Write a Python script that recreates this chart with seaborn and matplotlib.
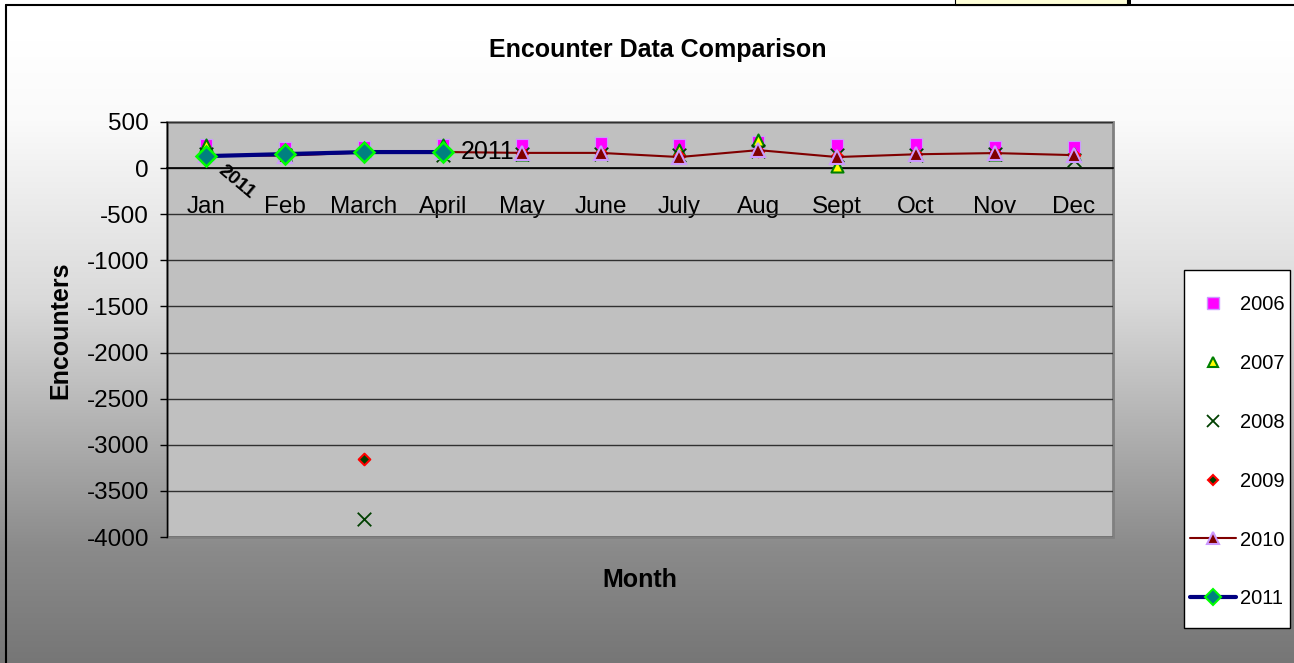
import numpy as np
import pandas as pd
import matplotlib
matplotlib.use("Agg")
import matplotlib.pyplot as plt
import seaborn as sns
from matplotlib.lines import Line2D
from matplotlib.patches import Rectangle

months = ["Jan", "Feb", "March", "April", "May", "June",
          "July", "Aug", "Sept", "Oct", "Nov", "Dec"]

enc_2006 = [250, 220, 230, 250, 250, 270, 250, 280, 250, 260, 230, 230]
enc_2007 = [250, 150, 180, 250, 150, 160, 200, 300, 20, 150, 150, 150]
enc_2008 = [150, 140, -3800, 140, 150, 150, 140, 190, 140, 140, 150, 90]
enc_2009 = [140, 140, -3150, 170, 160, 160, 130, 190, 130, 150, 160, 140]
enc_2010 = [140, 135, 170, 175, 165, 165, 120, 195, 120, 150, 163, 141]
enc_2011 = [130, 152, 174, 174]

sns.set_style("white")
plt.rcParams["font.family"] = ["Liberation Sans", "DejaVu Sans"]
plt.rcParams["text.color"] = "black"
plt.rcParams["xtick.color"] = "black"
plt.rcParams["ytick.color"] = "black"
plt.rcParams["axes.unicode_minus"] = False

W, H = 1294, 663
fig = plt.figure(figsize=(W / 100, H / 100), dpi=100)

# gradient background of the chart area
bg = fig.add_axes([0, 0, 1, 1], zorder=-10)
rows = np.arange(H)
grey = np.interp(rows, [0, 40, 120, 300, 450, 550, 663],
                 [255, 255, 250, 218, 170, 138, 118]) / 255.0
img = np.dstack([np.tile(grey[:, None], (1, 16))] * 3)
bg.imshow(img, aspect="auto", extent=[0, W, H, 0], interpolation="nearest")
bg.set_xlim(0, W)
bg.set_ylim(H, 0)
bg.axis("off")
# chart frame (top and left visible)
bg.plot([6, 6], [H, 5], color="black", lw=1.5)
bg.plot([6, W], [5, 5], color="black", lw=1.5)
# clipped cell fragment at the top
bg.add_patch(Rectangle((955, -2), 172, 7, facecolor="#FFFFD8", edgecolor="black", lw=0.8))
bg.add_patch(Rectangle((1127, 0), 4, 6, facecolor="black", edgecolor="none"))
# legend box
bg.add_patch(Rectangle((1184, 270), 106, 358, facecolor="white", edgecolor="black", lw=1))

# plot area
x0, y0, x1, y1 = 167, 122, 1113, 537
ax = fig.add_axes([x0 / W, 1 - y1 / H, (x1 - x0) / W, (y1 - y0) / H])
ax.set_facecolor("#C0C0C0")
ax.patch.set_edgecolor("#808080")
ax.patch.set_linewidth(2)

xs = np.arange(len(months))
df = pd.DataFrame({"x": xs, "2006": enc_2006, "2007": enc_2007,
                   "2008": enc_2008, "2009": enc_2009, "2010": enc_2010})
df11 = pd.DataFrame({"x": xs[:len(enc_2011)], "2011": enc_2011})

sns.scatterplot(data=df, x="x", y="2006", ax=ax, marker="s", s=80,
                color="#FF00FF", edgecolor="#CC99FF", linewidth=0.8, zorder=3)
sns.scatterplot(data=df, x="x", y="2007", ax=ax, marker="^", s=75,
                color="#FFFF00", edgecolor="#008000", linewidth=1.5, zorder=4)
sns.scatterplot(data=df, x="x", y="2008", ax=ax, marker="x", s=95,
                color="#004000", linewidth=1.3, zorder=5)
sns.scatterplot(data=df, x="x", y="2009", ax=ax, marker="D", s=35,
                color="#004000", edgecolor="#FF0000", linewidth=1.5, zorder=6)
sns.lineplot(data=df, x="x", y="2010", ax=ax, color="#800000", lw=1.5,
             marker="^", markersize=10, markerfacecolor="#800000",
             markeredgecolor="#CC99FF", markeredgewidth=1.5, zorder=7)
sns.lineplot(data=df11, x="x", y="2011", ax=ax, color="#000080", lw=3,
             marker="D", markersize=10, markerfacecolor="#008080",
             markeredgecolor="#00FF00", markeredgewidth=1.8, zorder=8)

# data labels
ax.text(xs[3] + 0.22, enc_2011[3], "2011", fontsize=18, ha="left", va="center", zorder=9)
ax.text(xs[0] + 0.38, -150, "2011", fontsize=14, fontweight="bold",
        rotation=-40, ha="center", va="center", zorder=9)

ax.set_xlim(-0.5, len(months) - 0.5)
ax.set_ylim(-4000, 500)
ax.set_yticks(np.arange(-4000, 501, 500))
ax.yaxis.grid(True, color="#303030", lw=1)
ax.set_axisbelow(True)

for s in ["top", "right"]:
    ax.spines[s].set_visible(False)
ax.spines["left"].set_color("black")
ax.spines["left"].set_linewidth(1)
ax.spines["bottom"].set_position(("data", 0))
ax.spines["bottom"].set_color("black")
ax.spines["bottom"].set_linewidth(1.2)

ax.set_xticks(xs)
ax.set_xticklabels(months)
ax.set_xticks(np.arange(-0.5, len(months), 1), minor=True)
ax.tick_params(axis="x", which="major", length=0, pad=20, labelsize=17.5)
ax.tick_params(axis="x", which="minor", length=6, direction="out", color="black", width=1)
ax.tick_params(axis="y", length=5, direction="out", color="black", width=1,
               labelsize=17.5, left=True, pad=8)
ax.set_xlabel("")
ax.set_ylabel("")

fig.text(658 / W, 1 - 50 / H, "Encounter Data Comparison", fontsize=18,
         fontweight="bold", ha="center", va="center")
fig.text(640 / W, 1 - 580 / H, "Month", fontsize=18, fontweight="bold",
         ha="center", va="center")
fig.text(60 / W, 1 - 330 / H, "Encounters", fontsize=18, fontweight="bold",
         ha="center", va="center", rotation=90)

handles = [
    Line2D([], [], ls="none", marker="s", markersize=8, markerfacecolor="#FF00FF",
           markeredgecolor="#CC99FF"),
    Line2D([], [], ls="none", marker="^", markersize=7, markerfacecolor="#FFFF00",
           markeredgecolor="#008000", markeredgewidth=1.5),
    Line2D([], [], ls="none", marker="x", markersize=9, color="#004000", markeredgewidth=1.3),
    Line2D([], [], ls="none", marker="D", markersize=5, markerfacecolor="#004000",
           markeredgecolor="#FF0000", markeredgewidth=1.5),
    Line2D([], [], color="#800000", lw=1.5, marker="^", markersize=9,
           markerfacecolor="#800000", markeredgecolor="#CC99FF", markeredgewidth=1.5),
    Line2D([], [], color="#000080", lw=3, marker="D", markersize=8,
           markerfacecolor="#008080", markeredgecolor="#00FF00", markeredgewidth=1.5),
]
labels = ["2006", "2007", "2008", "2009", "2010", "2011"]
leg = fig.legend(handles, labels, loc="upper left",
                 bbox_to_anchor=(1184 / W, 1 - 289 / H), fontsize=14.5,
                 frameon=False, labelspacing=1.98,
                 handlelength=2.3, handletextpad=0.2,
                 borderpad=0.3, borderaxespad=0)

fig.savefig("out.png", dpi=100)
